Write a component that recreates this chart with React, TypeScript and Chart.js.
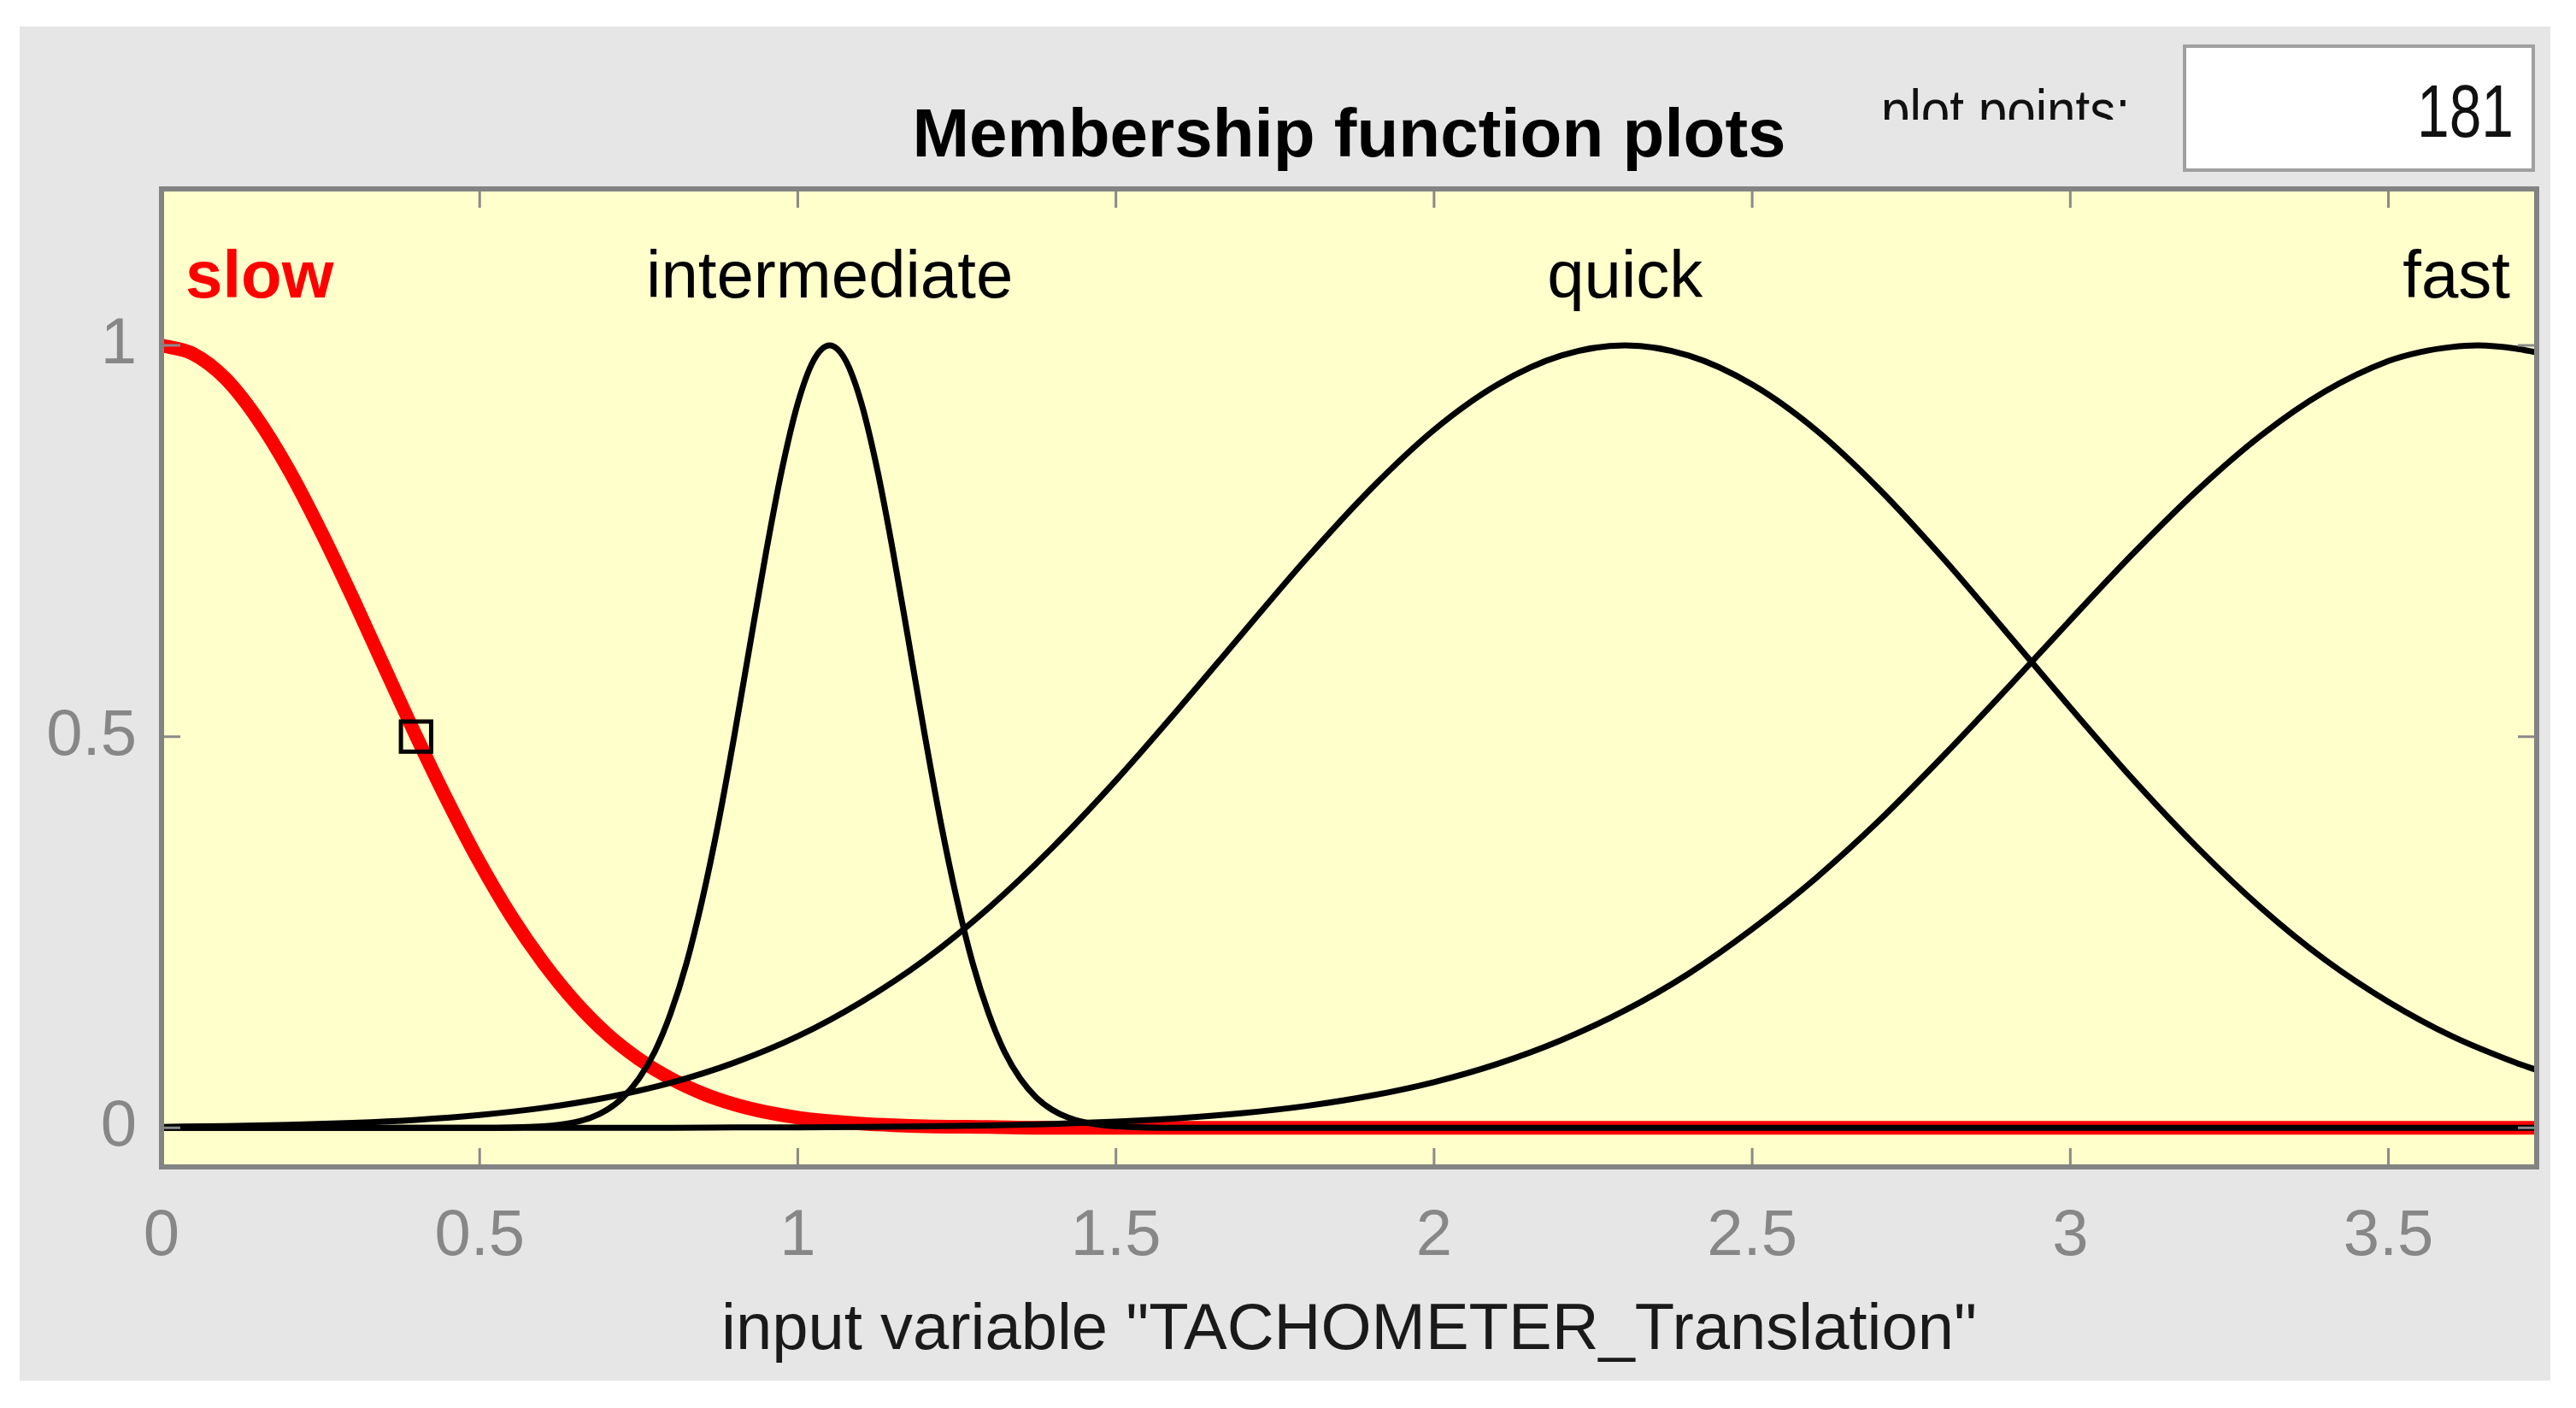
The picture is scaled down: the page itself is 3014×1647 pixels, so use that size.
import React, { useEffect, useRef } from "react";
import { Chart, registerables } from "chart.js";

Chart.register(...registerables);

const FONT = "'Liberation Sans', Arial, Helvetica, sans-serif";

// ---- axes ----
const xRange = [0, 3.733];
const yRange = [-0.05, 1.2];
const xTickValues = [0, 0.5, 1, 1.5, 2, 2.5, 3, 3.5];
const yTickValues = [0, 0.5, 1];

// ---- texts ----
const chartTitle = "Membership function plots";
const xAxisTitle = 'input variable "TACHOMETER_Translation"';
const plotPointsLabel = "plot points:";
const plotPointsValue = "181";

// ---- membership functions (names and label anchor = peak position) ----
const mfNames = ["slow", "intermediate", "quick", "fast"];
const mfLabelX = [0, 1.05, 2.3, 3.64];

// slow (selected, red)
const slowX = [0, 0.05, 0.1, 0.15, 0.2, 0.25, 0.3, 0.35, 0.4, 0.45, 0.5, 0.55, 0.6, 0.65, 0.7, 0.75, 0.8, 0.85, 0.9, 0.95, 1.0, 1.05, 1.1, 1.15, 1.2, 1.3, 1.4, 3.733];
const slowY = [1, 0.989, 0.958, 0.907, 0.841, 0.763, 0.678, 0.589, 0.501, 0.417, 0.339, 0.27, 0.211, 0.161, 0.12, 0.088, 0.063, 0.044, 0.03, 0.02, 0.013, 0.0085, 0.0053, 0.0033, 0.002, 0.001, 0, 0];

// intermediate
const interX = [0, 0.5, 0.6, 0.625, 0.65, 0.675, 0.7, 0.725, 0.75, 0.775, 0.8, 0.825, 0.85, 0.875, 0.9, 0.925, 0.95, 0.975, 1.0, 1.025, 1.05, 1.075, 1.1, 1.125, 1.15, 1.175, 1.2, 1.225, 1.25, 1.275, 1.3, 1.325, 1.35, 1.375, 1.4, 1.425, 1.45, 1.475, 1.5, 1.6, 3.733];
const interY = [0, 0, 0.002, 0.0038, 0.0072, 0.0131, 0.023, 0.0386, 0.0625, 0.097, 0.146, 0.21, 0.292, 0.389, 0.5, 0.618, 0.735, 0.841, 0.926, 0.981, 1, 0.981, 0.926, 0.841, 0.735, 0.618, 0.5, 0.389, 0.292, 0.21, 0.146, 0.097, 0.0625, 0.0386, 0.023, 0.0131, 0.0072, 0.0038, 0.002, 0, 0];

// quick
const quickX = [0, 0.1, 0.2, 0.3, 0.4, 0.5, 0.6, 0.7, 0.8, 0.9, 1.0, 1.1, 1.2, 1.3, 1.4, 1.5, 1.6, 1.7, 1.8, 1.9, 2.0, 2.1, 2.2, 2.3, 2.4, 2.5, 2.6, 2.7, 2.8, 2.9, 3.0, 3.1, 3.2, 3.3, 3.4, 3.5, 3.6, 3.7, 3.733];
const quickY = [0.0012, 0.0022, 0.0037, 0.0062, 0.0102, 0.0164, 0.0255, 0.0388, 0.0575, 0.0832, 0.117, 0.161, 0.215, 0.281, 0.358, 0.444, 0.537, 0.633, 0.728, 0.816, 0.892, 0.95, 0.987, 1, 0.987, 0.95, 0.892, 0.816, 0.728, 0.633, 0.537, 0.444, 0.358, 0.281, 0.215, 0.161, 0.117, 0.0832, 0.0738];

// fast
const fastX = [0, 0.8, 0.9, 1.0, 1.1, 1.2, 1.3, 1.4, 1.5, 1.6, 1.7, 1.8, 1.9, 2.0, 2.1, 2.2, 2.3, 2.4, 2.5, 2.6, 2.7, 2.8, 2.9, 3.0, 3.1, 3.2, 3.3, 3.4, 3.5, 3.55, 3.6, 3.64, 3.7, 3.733];
const fastY = [0, 0, 0.0004, 0.0006, 0.0011, 0.0019, 0.0031, 0.005, 0.0079, 0.0123, 0.0188, 0.028, 0.0409, 0.0584, 0.0818, 0.112, 0.15, 0.197, 0.254, 0.319, 0.393, 0.475, 0.561, 0.649, 0.735, 0.815, 0.885, 0.941, 0.98, 0.9915, 0.998, 1, 0.996, 0.991];

// selected-point marker
const markerX = [0.4];
const markerY = [0.5];

const W = 3014;
const H = 1647;

export default function App() {
  const ref = useRef<HTMLCanvasElement>(null);

  useEffect(() => {
    const canvas = ref.current;
    if (!canvas) return;
    const pts = (xs: number[], ys: number[]) => xs.map((x, i) => ({ x, y: ys[i] }));

    const decor = {
      id: "decor",
      beforeDraw(chart: any) {
        const { ctx, chartArea: a, width, height } = chart;
        ctx.save();
        ctx.fillStyle = "#ffffff";
        ctx.fillRect(0, 0, width, height);
        ctx.fillStyle = "#e6e6e6";
        ctx.fillRect(23, 31, 2961, 1584);
        ctx.fillStyle = "#ffffcc";
        ctx.fillRect(a.left, a.top, a.right - a.left, a.bottom - a.top);
        ctx.restore();
      },
      afterDatasetsDraw(chart: any) {
        const { ctx, chartArea: a, scales } = chart;
        const xs = scales.x;
        const ys = scales.y;
        ctx.save();
        // inner tick marks
        ctx.strokeStyle = "#8a8a8a";
        ctx.lineWidth = 3;
        ctx.beginPath();
        xTickValues.forEach((v) => {
          const px = xs.getPixelForValue(v);
          ctx.moveTo(px, a.bottom);
          ctx.lineTo(px, a.bottom - 22);
          ctx.moveTo(px, a.top);
          ctx.lineTo(px, a.top + 22);
        });
        yTickValues.forEach((v) => {
          const py = ys.getPixelForValue(v);
          ctx.moveTo(a.left, py);
          ctx.lineTo(a.left + 22, py);
          ctx.moveTo(a.right, py);
          ctx.lineTo(a.right - 22, py);
        });
        ctx.stroke();
        // frame
        ctx.lineWidth = 6;
        ctx.strokeStyle = "#838383";
        ctx.strokeRect(a.left, a.top, a.right - a.left, a.bottom - a.top);

        // MF names
        ctx.textBaseline = "alphabetic";
        ctx.textAlign = "left";
        const baseY = a.top + 127;
        mfNames.forEach((name, i) => {
          const selected = i === 0;
          ctx.font = `${selected ? "bold " : ""}78px ${FONT}`;
          ctx.fillStyle = selected ? "#ff0000" : "#000000";
          const w = ctx.measureText(name).width;
          let left = xs.getPixelForValue(mfLabelX[i]) - w / 2;
          if (left < a.left + 28) left = a.left + 28;
          if (left + w > a.right - 31) left = a.right - 31 - w;
          ctx.fillText(name, left, baseY);
        });
        ctx.restore();
      },
      afterDraw(chart: any) {
        const { ctx, chartArea: a } = chart;
        ctx.save();
        // title
        ctx.font = `bold 80px ${FONT}`;
        ctx.fillStyle = "#000000";
        ctx.textAlign = "center";
        ctx.textBaseline = "alphabetic";
        ctx.fillText(chartTitle, (a.left + a.right) / 2, 183);

        // plot points label (clipped at the bottom as in the source)
        ctx.save();
        ctx.beginPath();
        ctx.rect(2150, 60, 380, 80);
        ctx.clip();
        ctx.font = `70px ${FONT}`;
        ctx.textAlign = "left";
        ctx.fillStyle = "#111111";
        ctx.save();
        ctx.translate(2201, 154);
        ctx.scale(0.86, 1);
        ctx.fillText(plotPointsLabel, 0, 0);
        ctx.restore();
        ctx.restore();

        // edit box
        ctx.fillStyle = "#ffffff";
        ctx.fillRect(2556, 54, 408, 145);
        ctx.strokeStyle = "#a0a0a0";
        ctx.lineWidth = 4;
        ctx.strokeRect(2556, 54, 408, 145);
        ctx.save();
        ctx.translate(2941, 160);
        ctx.scale(0.77, 1);
        ctx.font = `88px ${FONT}`;
        ctx.textAlign = "right";
        ctx.fillStyle = "#111111";
        ctx.fillText(plotPointsValue, 0, 0);
        ctx.restore();
        ctx.restore();
      },
    };

    const chart = new Chart(canvas, {
      type: "line",
      data: {
        datasets: [
          {
            label: "marker",
            data: pts(markerX, markerY),
            showLine: false,
            pointStyle: "rect",
            pointRadius: 25,
            pointBorderWidth: 5,
            pointBorderColor: "#000000",
            pointBackgroundColor: "rgba(0,0,0,0)",
            borderColor: "#000000",
            order: 0,
          },
          {
            label: mfNames[1],
            data: pts(interX, interY),
            borderColor: "#000000",
            borderWidth: 7,
            pointRadius: 0,
            cubicInterpolationMode: "monotone",
            fill: false,
            order: 1,
          },
          {
            label: mfNames[2],
            data: pts(quickX, quickY),
            borderColor: "#000000",
            borderWidth: 7,
            pointRadius: 0,
            cubicInterpolationMode: "monotone",
            fill: false,
            order: 1,
          },
          {
            label: mfNames[3],
            data: pts(fastX, fastY),
            borderColor: "#000000",
            borderWidth: 7,
            pointRadius: 0,
            cubicInterpolationMode: "monotone",
            fill: false,
            order: 1,
          },
          {
            label: mfNames[0],
            data: pts(slowX, slowY),
            borderColor: "#ff0000",
            borderWidth: 16,
            pointRadius: 0,
            cubicInterpolationMode: "monotone",
            fill: false,
            order: 2,
          },
        ],
      } as any,
      options: {
        responsive: false,
        maintainAspectRatio: false,
        devicePixelRatio: 1,
        animation: false,
        layout: { padding: { left: 23, top: 221, right: 46, bottom: 32 } },
        plugins: {
          legend: { display: false },
          tooltip: { enabled: false },
          title: { display: false },
        },
        scales: {
          x: {
            type: "linear",
            min: xRange[0],
            max: xRange[1],
            afterBuildTicks: (s: any) => {
              s.ticks = xTickValues.map((v) => ({ value: v }));
            },
            afterFit: (s: any) => {
              s.height = 250;
            },
            grid: { display: false, drawTicks: false },
            border: { display: false },
            ticks: {
              color: "#878787",
              font: { family: FONT, size: 76 },
              padding: 36,
              maxRotation: 0,
              autoSkip: false,
              callback: (v: any) => String(v),
            },
            title: {
              display: true,
              text: xAxisTitle,
              color: "#1a1a1a",
              font: { family: FONT, size: 76 },
              padding: { top: 0, bottom: 12 },
            },
          },
          y: {
            type: "linear",
            min: yRange[0],
            max: yRange[1],
            afterBuildTicks: (s: any) => {
              s.ticks = yTickValues.map((v) => ({ value: v }));
            },
            afterFit: (s: any) => {
              s.width = 166;
            },
            grid: { display: false, drawTicks: false },
            border: { display: false },
            ticks: {
              color: "#878787",
              font: { family: FONT, size: 76 },
              padding: 29,
              autoSkip: false,
              callback: (v: any) => String(v),
            },
          },
        },
      } as any,
      plugins: [decor],
    });

    return () => chart.destroy();
  }, []);

  return (
    <div style={{ position: "absolute", left: 0, top: 0, width: W, height: H, background: "#ffffff" }}>
      <canvas ref={ref} width={W} height={H} style={{ display: "block", width: W, height: H }} />
    </div>
  );
}
